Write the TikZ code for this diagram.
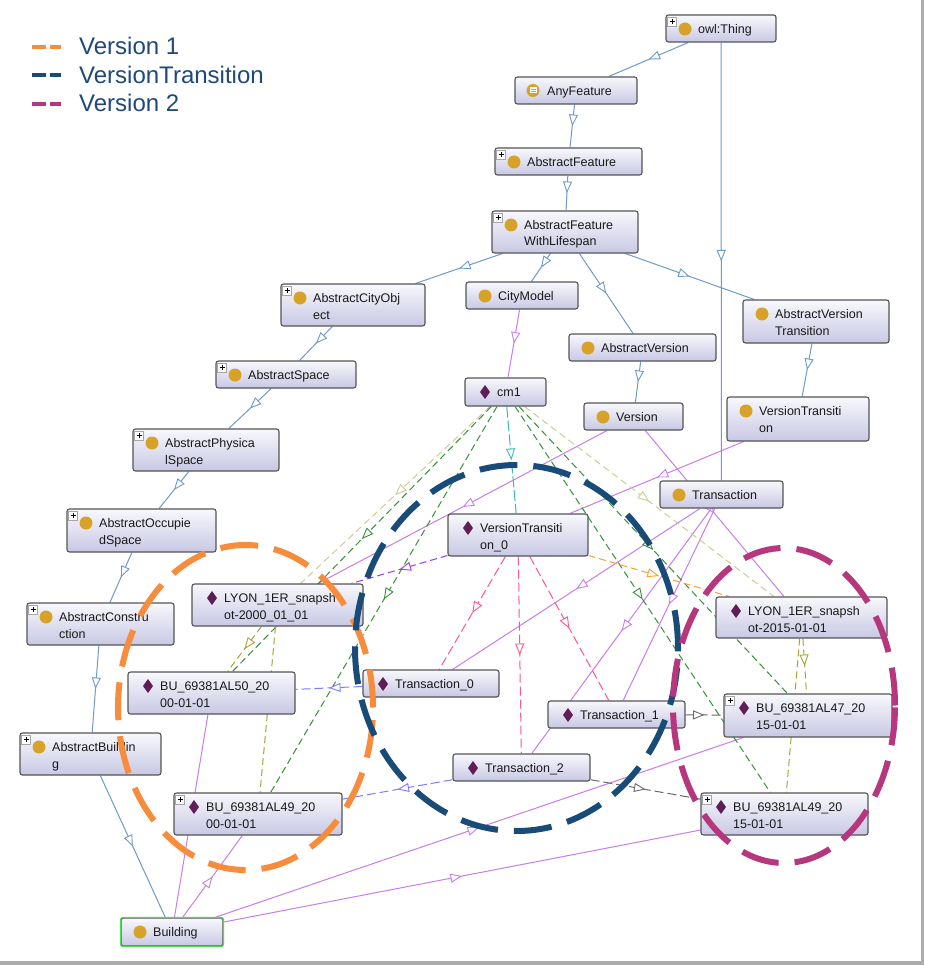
\documentclass[tikz,border=0pt]{standalone}
\usepackage{fontspec}
\setmainfont{Liberation Sans}
\usetikzlibrary{arrows.meta,decorations.markings}
\pgfdeclarelayer{back}
\pgfdeclarelayer{bg}
\pgfsetlayers{back,bg,main}

\definecolor{gold}{RGB}{214,163,40}
\definecolor{indiv}{RGB}{95,30,85}
\definecolor{nodeborder}{RGB}{85,85,85}
\definecolor{ntop}{RGB}{248,248,253}
\definecolor{nbot}{RGB}{200,200,228}
\definecolor{subc}{RGB}{110,155,200}
\definecolor{inst}{RGB}{200,125,235}
\definecolor{khaki}{RGB}{205,205,150}
\definecolor{olive}{RGB}{165,165,55}
\definecolor{grn}{RGB}{55,145,55}
\definecolor{teal2}{RGB}{60,185,185}
\definecolor{pdash}{RGB}{155,60,235}
\definecolor{odash}{RGB}{255,160,40}
\definecolor{pink2}{RGB}{255,85,150}
\definecolor{lblue}{RGB}{125,125,255}
\definecolor{gdash}{RGB}{105,105,105}
\definecolor{corange}{RGB}{247,140,60}
\definecolor{cblue}{RGB}{25,75,120}
\definecolor{cmag}{RGB}{182,55,125}
\definecolor{legtext}{RGB}{31,73,125}
\definecolor{bgreen}{RGB}{80,220,80}

\tikzset{
  obox/.style={shape=rectangle, draw=nodeborder, line width=1.1pt, rounded corners=2.5pt,
    top color=ntop, bottom color=nbot, inner sep=0pt},
  lbl/.style={anchor=base west, inner sep=0pt, text=black!90, font=\fontsize{12.5}{14}\selectfont},
  leg/.style={anchor=base west, inner sep=0pt, text=legtext, font=\fontsize{24}{28}\selectfont},
  midarr/.style={postaction={decorate, decoration={markings,
    mark=at position 0.5 with {\arrow{Triangle[length=11.5pt,width=9pt,fill=white,line width=0.9pt]}}}}},
  subedge/.style={draw=subc, line width=1pt, midarr},
  instedge/.style={draw=inst, line width=1pt, midarr},
  dedge/.style={line width=1pt, dash pattern=on 7pt off 4pt, midarr},
  bigring/.style={line width=6pt, dash pattern=on 38pt off 16pt},
}

% name, x1, y1, x2, y2, icon (c/i/e), plus (0/1), line1, line2
\newcommand\onode[9]{%
  \node[obox, minimum width={(#4-#2)*1pt}, minimum height={(#5-#3)*1pt}] (#1) at ({(#2+#4)/2},{(#3+#5)/2}) {};
  \if#6c\fill[gold] (#2+19,#3+14) circle (6.5pt);\fi
  \if#6i\fill[indiv] (#2+20,#3+7) -- (#2+25,#3+14) -- (#2+20,#3+21) -- (#2+15,#3+14) -- cycle;\fi
  \if#6e\fill[gold] (#2+18,#3+13.5) circle (6.5pt);
    \fill[white] (#2+14.5,#3+10.5) rectangle (#2+21.5,#3+16.5);
    \draw[gold, line width=1pt] (#2+15.5,#3+12.3) -- (#2+20.5,#3+12.3) (#2+15.5,#3+14.7) -- (#2+20.5,#3+14.7);\fi
  \if#71\draw[gray!70, fill=white, line width=0.5pt] (#2+1.5,#3+2) rectangle (#2+10.5,#3+11);
    \draw[black, line width=0.8pt] (#2+3.5,#3+6.5) -- (#2+8.5,#3+6.5) (#2+6,#3+4) -- (#2+6,#3+9);\fi
  \node[lbl] (#1a) at (#2+32,#3+18.5) {#8};
  \if\relax\detokenize{#9}\relax\else\node[lbl] (#1b) at (#2+32,#3+35) {#9};\fi
}

\begin{document}
\begin{tikzpicture}[x=1pt,y=-1pt]
\useasboundingbox (0,0) rectangle (924,965);
\begin{pgfonlayer}{back}
\fill[white] (0,0) rectangle (924,965);
\end{pgfonlayer}
\fill[gray!65] (921,0) rectangle (924,965);
\fill[gray!65] (0,961) rectangle (924,965);

% legend
\draw[corange, line width=4pt] (32,47) -- (46,47) (50,47) -- (61,47);
\draw[cblue, line width=4pt] (32,75) -- (46,75) (50,75) -- (61,75);
\draw[cmag, line width=4pt] (32,104) -- (46,104) (50,104) -- (61,104);
\node[leg] (leg1) at (79,55) {Version 1};
\node[leg] (leg2) at (79,83.5) {VersionTransition};
\node[leg] (leg3) at (79,112) {Version 2};

% nodes
\onode{thing}{666}{15}{776}{42}{c}{1}{owl:Thing}{}
\onode{anyf}{515}{77}{637}{104}{e}{0}{AnyFeature}{}
\onode{absf}{495}{148}{642}{175}{c}{1}{AbstractFeature}{}
\onode{afwl}{492}{211}{638}{253}{c}{1}{AbstractFeature}{WithLifespan}
\onode{aco}{281}{284}{425}{326}{c}{1}{AbstractCityObj}{ect}
\onode{citym}{466}{282}{578}{309}{c}{0}{CityModel}{}
\onode{av}{569}{334}{716}{361}{c}{0}{AbstractVersion}{}
\onode{avt}{743}{300}{889}{343}{c}{0}{AbstractVersion}{Transition}
\onode{as}{216}{361}{356}{388}{c}{1}{AbstractSpace}{}
\onode{cm}{465}{378}{546}{406}{i}{0}{cm1}{}
\onode{ver}{584}{403}{683}{430}{c}{0}{Version}{}
\onode{vt}{727}{397}{869}{441}{c}{0}{VersionTransiti}{on}
\onode{aps}{133}{429}{279}{471}{c}{1}{AbstractPhysica}{lSpace}
\onode{tr}{660}{481}{783}{508}{c}{0}{Transaction}{}
\onode{aos}{67}{509}{216}{552}{c}{1}{AbstractOccupie}{dSpace}
\onode{vtz}{448}{514}{588}{556}{i}{0}{VersionTransiti}{on\_0}
\onode{lyA}{192}{584}{363}{626}{i}{0}{LYON\_1ER\_snapsh}{ot-2000\_01\_01}
\onode{lyB}{716}{597}{887}{638}{i}{0}{LYON\_1ER\_snapsh}{ot-2015-01-01}
\onode{acon}{27}{603}{174}{645}{c}{1}{AbstractConstru}{ction}
\onode{buA}{128}{672}{295}{714}{i}{0}{BU\_69381AL50\_20}{00-01-01}
\onode{tz}{363}{670}{499}{697}{i}{0}{Transaction\_0}{}
\onode{to}{548}{701}{685}{728}{i}{0}{Transaction\_1}{}
\onode{buC}{724}{694}{892}{737}{i}{1}{BU\_69381AL47\_20}{15-01-01}
\onode{ab}{20}{733}{161}{775}{c}{1}{AbstractBuildin}{g}
\onode{tt}{453}{754}{590}{781}{i}{0}{Transaction\_2}{}
\onode{buB}{174}{793}{342}{835}{i}{1}{BU\_69381AL49\_20}{00-01-01}
\onode{buD}{701}{793}{868}{835}{i}{1}{BU\_69381AL49\_20}{15-01-01}
\onode{bld}{121}{918}{223}{946}{c}{0}{Building}{}
\draw[bgreen, line width=1.3pt, rounded corners=2.5pt] (bld.north west) rectangle (bld.south east);

\begin{pgfonlayer}{bg}
% subclass
\draw[subedge] (thing) -- (anyf);
\draw[subedge] (anyf) -- (absf);
\draw[subedge] (absf) -- (afwl);
\draw[subedge] (thing) -- (tr);
\draw[subedge] (afwl) -- (aco);
\draw[subedge] (afwl) -- (citym);
\draw[subedge] (afwl) -- (av);
\draw[subedge] (afwl) -- (avt);
\draw[subedge] (aco) -- (as);
\draw[subedge] (as) -- (aps);
\draw[subedge] (aps) -- (aos);
\draw[subedge] (aos) -- (acon);
\draw[subedge] (acon) -- (ab);
\draw[subedge] (ab) -- (bld);
\draw[subedge] (av) -- (ver);
\draw[subedge] (avt) -- (vt);
% instance of
\draw[instedge] (citym) -- (cm);
\draw[instedge] (ver) -- (lyA);
\draw[instedge] (ver) -- (lyB);
\draw[instedge] (vt) -- (vtz);
\draw[instedge] (tr) -- (tz);
\draw[instedge] (tr) -- (to);
\draw[instedge] (tr) -- (tt);
\draw[instedge] (bld) -- (buA);
\draw[instedge] (bld) -- (buB);
\draw[instedge] (bld) -- (buC);
\draw[instedge] (bld) -- (buD);
% object properties
\draw[dedge, draw=khaki] (cm) -- (lyA);
\draw[dedge, draw=khaki] (cm) -- (lyB);
\draw[dedge, draw=grn] (cm) -- (buA);
\draw[dedge, draw=grn] (cm) -- (buB);
\draw[dedge, draw=grn] (cm) -- (buC);
\draw[dedge, draw=grn] (cm) -- (buD);
\draw[dedge, draw=teal2, dash pattern=on 11pt off 3pt] (cm) -- (vtz);
\draw[dedge, draw=olive] (lyA) -- (buA);
\draw[dedge, draw=olive] (lyA) -- (buB);
\draw[dedge, draw=olive] (lyB) -- (buC);
\draw[dedge, draw=olive] (lyB) -- (buD);
\draw[dedge, draw=pdash] (vtz) -- (lyA);
\draw[dedge, draw=odash] (vtz) -- (lyB);
\draw[dedge, draw=pink2, dash pattern=on 9pt off 4pt] (vtz) -- (tz);
\draw[dedge, draw=pink2, dash pattern=on 9pt off 4pt] (vtz) -- (to);
\draw[dedge, draw=pink2, dash pattern=on 9pt off 4pt] (vtz) -- (tt);
\draw[dedge, draw=lblue, dash pattern=on 9pt off 4pt] (tz) -- (buA);
\draw[dedge, draw=lblue, dash pattern=on 9pt off 4pt] (tt) -- (buB);
\draw[dedge, draw=gdash, dash pattern=on 9pt off 4pt] (to) -- (buC);
\draw[dedge, draw=gdash, dash pattern=on 9pt off 4pt] (tt) -- (buD);
\end{pgfonlayer}

% highlighting rings
\draw[bigring, corange] (245.5,707.5) ellipse [x radius=127.5pt, y radius=162.5pt];
\draw[bigring, cblue] (516.5,648) ellipse [x radius=161.5pt, y radius=183pt];
\draw[bigring, cmag] (784,705.5) ellipse [x radius=111pt, y radius=157.5pt];
\end{tikzpicture}
\end{document}
